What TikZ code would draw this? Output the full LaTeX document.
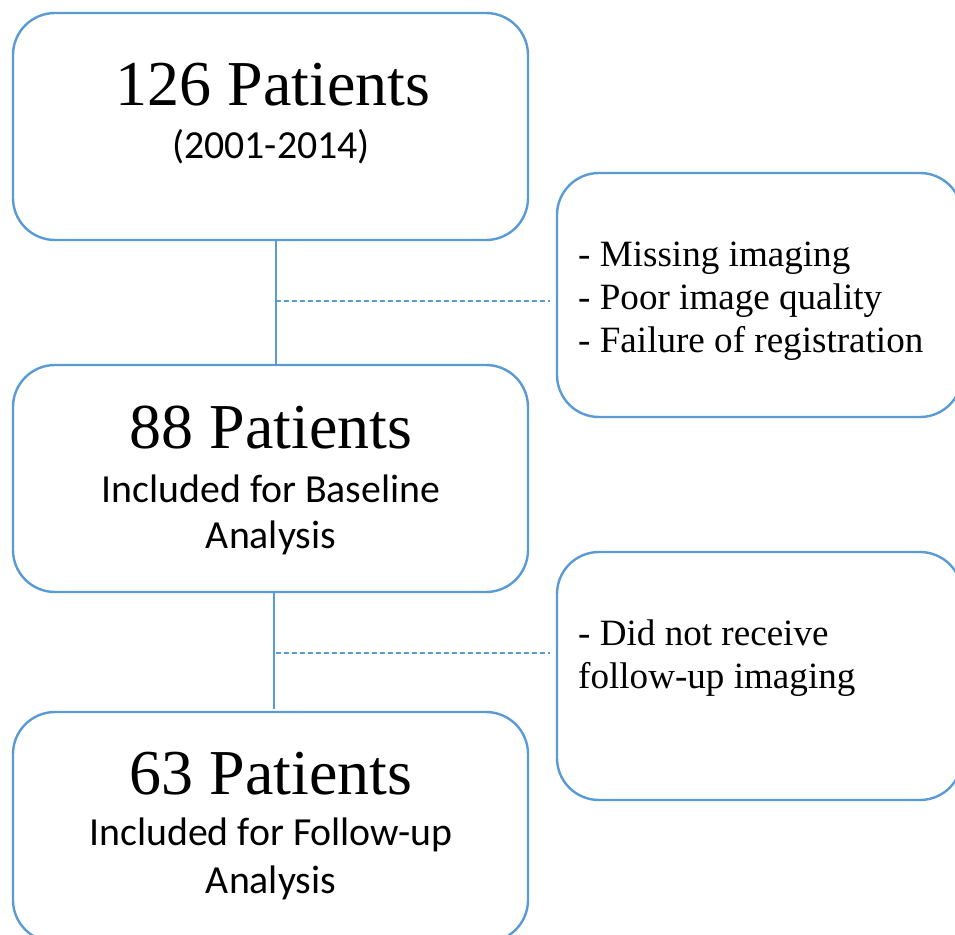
\documentclass[tikz,border=0pt]{standalone}
\usepackage{fontspec}
\setmainfont{Liberation Serif}
\newfontfamily\calib{Carlito}
\begin{document}
\begin{tikzpicture}[x=1pt,y=-1pt,
  box/.style={draw=boxblue,line width=2.4pt,rounded corners=42pt,inner sep=0pt},
  conn/.style={draw=boxblue,line width=1.8pt},
  dconn/.style={draw=boxblue,line width=1.5pt,dash pattern=on 5pt off 3pt},
  big/.style={anchor=base,inner sep=0pt,font=\fontsize{64}{70}\selectfont},
  sub/.style={anchor=base,inner sep=0pt,font=\calib\fontsize{39.8}{47}\selectfont},
  side/.style={anchor=base west,inner sep=0pt,font=\fontsize{37.1}{43}\selectfont}]
\definecolor{boxblue}{RGB}{91,155,213}
\useasboundingbox (0,0) rectangle (955,934);
\clip (0,0) rectangle (955,934);
\fill[white] (0,0) rectangle (955,934);
% boxes
\node[box,minimum width=515pt,minimum height=227pt] (b1) at (270.5,126.5) {};
\node[box,minimum width=405pt,minimum height=244pt] (r1) at (759.5,295) {};
\node[box,minimum width=515pt,minimum height=227pt] (b2) at (270.5,478.5) {};
\node[box,minimum width=405pt,minimum height=248pt] (r2) at (759.5,676) {};
\node[box,minimum width=515pt,minimum height=230pt] (b3) at (270.5,827) {};
% texts
\node[big] (t1) at (273,105) {126 Patients};
\node[sub] (t1b) at (271,158) {(2001-2014)};
\node[big] (t2) at (271,448) {88 Patients};
\node[sub] (t2b) at (271,502) {Included for Baseline};
\node[sub] (t2c) at (271,548) {Analysis};
\node[big] (t3) at (271,794) {63 Patients};
\node[sub] (t3b) at (271,845) {Included for Follow-up};
\node[sub] (t3c) at (271,893) {Analysis};
\node[side] (s1) at (578,266) {- Missing imaging};
\node[side] (s2) at (578,309) {- Poor image quality};
\node[side] (s3) at (578,352) {- Failure of registration};
\node[side] (s4) at (578,645) {- Did not receive};
\node[side] (s5) at (578,688) {follow-up imaging};
% connectors
\draw[conn] ([xshift=5.5pt]b1.south) -- ([xshift=5.5pt]b2.north);
\draw[conn] ([xshift=3.5pt]b2.south) -- ([xshift=3.5pt,yshift=2pt]b3.north);
\coordinate (m1) at (276,301);
\coordinate (m2) at (276,653);
\draw[dconn,shorten >=6pt] (m1) -- (m1 -| r1.west);
\draw[dconn,shorten >=6pt] (m2) -- (m2 -| r2.west);
\end{tikzpicture}
\end{document}
